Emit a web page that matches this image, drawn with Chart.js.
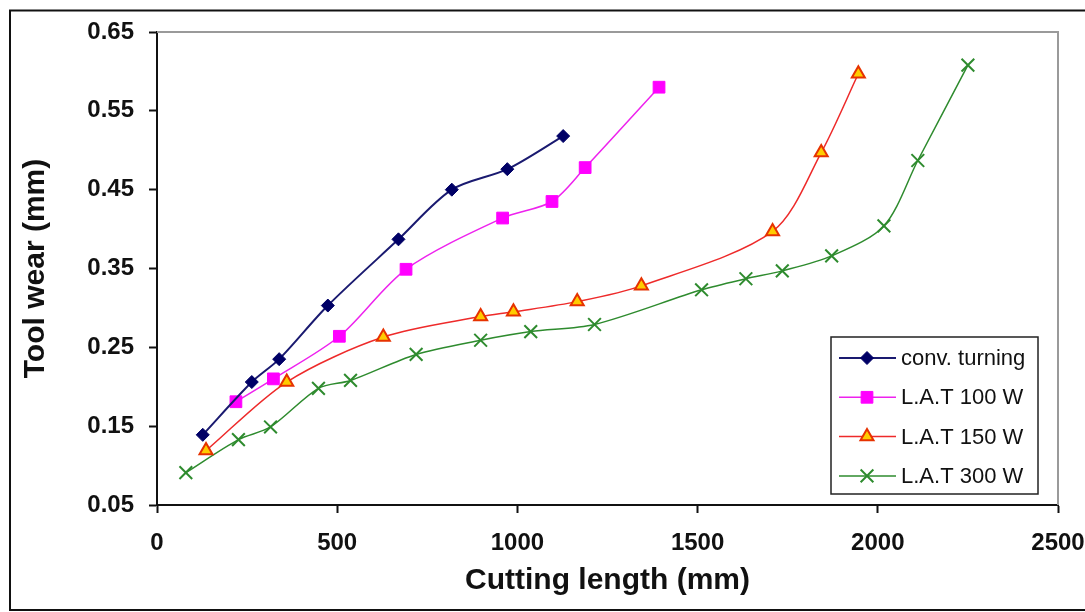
<!DOCTYPE html>
<html>
<head>
<meta charset="utf-8">
<script src="https://cdn.jsdelivr.net/npm/chart.js@4/dist/chart.umd.min.js"></script>
<style>
    body { margin: 0; background: #fff; }
    #chartCanvas { display: block; }
</style>
</head>
<body>
<canvas id="chartCanvas" width="1085" height="612"></canvas>
<script>
/* DATA */
const convX = [127, 263, 339, 474, 670, 818, 972, 1127];
const convY = [0.139, 0.206, 0.235, 0.303, 0.387, 0.450, 0.476, 0.518];

const lat100X = [219, 323, 506, 691, 959, 1096, 1188, 1393];
const lat100Y = [0.181, 0.210, 0.264, 0.349, 0.414, 0.435, 0.478, 0.580];

const lat150X = [136, 360, 628, 898, 989, 1166, 1344, 1708, 1843, 1946];
const lat150Y = [0.119, 0.206, 0.263, 0.289, 0.295, 0.308, 0.328, 0.397, 0.497, 0.597];

const lat300X = [80, 226, 315, 448, 537, 719, 898, 1037, 1214, 1511, 1634, 1735, 1872, 2017, 2111, 2250];
const lat300Y = [0.091, 0.133, 0.149, 0.198, 0.208, 0.241, 0.259, 0.270, 0.279, 0.323, 0.337, 0.347, 0.366, 0.404, 0.487, 0.608];

const xTicks = [0, 500, 1000, 1500, 2000, 2500];
const yTicks = [0.05, 0.15, 0.25, 0.35, 0.45, 0.55, 0.65];

const FONT = "'Liberation Sans', Arial, sans-serif";

function toPoints(xs, ys) {
    return xs.map((x, i) => ({ x: x, y: ys[i] }));
}

/* MARKER (legend only) */
function drawMarker(ctx, style, r, x, y) {
    ctx.beginPath();
    if (style === "rectRot") {
        ctx.moveTo(x, y - r); ctx.lineTo(x + r, y); ctx.lineTo(x, y + r); ctx.lineTo(x - r, y); ctx.closePath();
        ctx.fill(); ctx.stroke();
    } else if (style === "rect") {
        const h = r * Math.SQRT1_2;
        ctx.rect(x - h, y - h, 2 * h, 2 * h);
        ctx.fill(); ctx.stroke();
    } else if (style === "triangle") {
        ctx.moveTo(x, y - r); ctx.lineTo(x + r * 0.866, y + r * 0.5); ctx.lineTo(x - r * 0.866, y + r * 0.5); ctx.closePath();
        ctx.fill(); ctx.stroke();
    } else {
        const h = r * Math.SQRT1_2;
        ctx.moveTo(x - h, y - h); ctx.lineTo(x + h, y + h);
        ctx.moveTo(x + h, y - h); ctx.lineTo(x - h, y + h);
        ctx.stroke();
    }
}

/* FRAME + PLOT BORDER + LEGEND */
const framePlugin = {
    id: "frame",
    beforeDraw(chart) {
        const ctx = chart.ctx;
        ctx.save();
        ctx.fillStyle = "#fff";
        ctx.fillRect(0, 0, chart.width, chart.height);
        ctx.strokeStyle = "#111";
        ctx.lineWidth = 2;
        ctx.beginPath();
        ctx.moveTo(chart.width, 10.5);
        ctx.lineTo(10, 10.5);
        ctx.lineTo(10, 610);
        ctx.lineTo(chart.width, 610);
        ctx.stroke();
        ctx.restore();
    },
    afterDatasetsDraw(chart) {
        const ctx = chart.ctx;
        const a = chart.chartArea;
        ctx.save();
        // grey top / right edge of the plot area
        ctx.strokeStyle = "#9a9a9a";
        ctx.lineWidth = 2;
        ctx.beginPath();
        ctx.moveTo(a.left, a.top);
        ctx.lineTo(a.right, a.top);
        ctx.lineTo(a.right, a.bottom);
        ctx.stroke();

        // legend box
        ctx.fillStyle = "#fff";
        ctx.fillRect(831, 337, 207, 157);
        ctx.strokeStyle = "#222";
        ctx.lineWidth = 1.5;
        ctx.strokeRect(831, 337, 207, 157);

        ctx.font = "22px " + FONT;
        ctx.textBaseline = "middle";
        chart.data.datasets.forEach((ds, i) => {
            const y = 358 + i * 39.3;
            ctx.strokeStyle = ds.borderColor;
            ctx.lineWidth = ds.borderWidth;
            ctx.beginPath();
            ctx.moveTo(839, y);
            ctx.lineTo(896, y);
            ctx.stroke();
            ctx.fillStyle = ds.pointBackgroundColor;
            ctx.strokeStyle = ds.pointBorderColor;
            ctx.lineWidth = ds.pointBorderWidth;
            drawMarker(ctx, ds.pointStyle, ds.pointRadius, 867, y);
            ctx.fillStyle = "#111";
            ctx.fillText(ds.label, 901, y + 1);
        });
        ctx.restore();
    }
};

/* CHART */
const ctx = document.getElementById("chartCanvas");

new Chart(ctx, {
    type: "line",
    data: {
        datasets: [
            {
                label: "conv. turning",
                data: toPoints(convX, convY),
                borderColor: "#1a1a70", borderWidth: 2,
                pointStyle: "rectRot", pointRadius: 6.5,
                pointBackgroundColor: "#000066", pointBorderColor: "#000066", pointBorderWidth: 1,
                tension: 0.3
            },
            {
                label: "L.A.T 100 W",
                data: toPoints(lat100X, lat100Y),
                borderColor: "#ee22ee", borderWidth: 1.5,
                pointStyle: "rect", pointRadius: 8.3,
                pointBackgroundColor: "#ff00ff", pointBorderColor: "#ff00ff", pointBorderWidth: 1,
                tension: 0.3
            },
            {
                label: "L.A.T 150 W",
                data: toPoints(lat150X, lat150Y),
                borderColor: "#ee2a2a", borderWidth: 1.5,
                pointStyle: "triangle", pointRadius: 7.5,
                pointBackgroundColor: "#ffcc00", pointBorderColor: "#e63200", pointBorderWidth: 2,
                tension: 0.3
            },
            {
                label: "L.A.T 300 W",
                data: toPoints(lat300X, lat300Y),
                borderColor: "#2e8b2e", borderWidth: 1.5,
                pointStyle: "crossRot", pointRadius: 9,
                pointBackgroundColor: "#2e8b2e", pointBorderColor: "#2e8b2e", pointBorderWidth: 2,
                tension: 0.3
            }
        ]
    },
    options: {
        responsive: false,
        animation: false,
        layout: { padding: { left: 14, right: 27, top: 32, bottom: 9 } },
        plugins: {
            legend: { display: false },
            tooltip: { enabled: false }
        },
        scales: {
            x: {
                type: "linear",
                min: 0, max: 2500,
                afterBuildTicks: s => { s.ticks = xTicks.map(v => ({ value: v })); },
                afterFit: s => { s.height = 98; s.paddingLeft = 0; s.paddingRight = 0; },
                grid: { drawOnChartArea: false, drawTicks: true, tickLength: 8, tickColor: "#111", tickWidth: 2 },
                border: { color: "#111", width: 2 },
                ticks: { color: "#111", padding: 16, font: { family: FONT, size: 24, weight: "bold" }, maxRotation: 0, callback: v => String(v) },
                title: { display: true, text: "Cutting length (mm)", color: "#111", font: { family: FONT, size: 30, weight: "bold" } }
            },
            y: {
                min: 0.05, max: 0.65,
                afterBuildTicks: s => { s.ticks = yTicks.map(v => ({ value: v })); },
                afterFit: s => { s.width = 143; },
                grid: { drawOnChartArea: false, drawTicks: true, tickLength: 8, tickColor: "#111", tickWidth: 2 },
                border: { color: "#111", width: 2 },
                ticks: { color: "#111", padding: 15, font: { family: FONT, size: 24, weight: "bold" }, callback: v => v.toFixed(2) },
                title: { display: true, text: "Tool wear (mm)", color: "#111", font: { family: FONT, size: 30, weight: "bold" } }
            }
        }
    },
    plugins: [framePlugin]
});
</script>
</body>
</html>
